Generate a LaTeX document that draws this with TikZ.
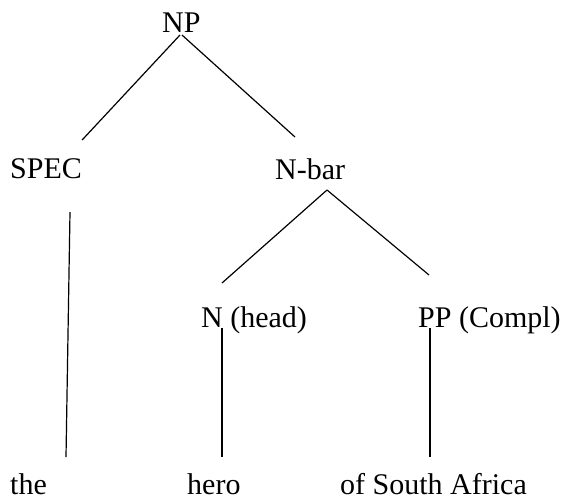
\documentclass[tikz,border=0pt]{standalone}
\usepackage{fontspec}
\setmainfont{Liberation Serif}
\usetikzlibrary{calc}
\tikzset{
	word/.style={inner sep=0pt, anchor=base west, font=\fontsize{30}{36}\selectfont},
	branch/.style={line width=1.2pt}
}

\begin{document}
\begin{tikzpicture}[x=1pt, y=1pt]
	% page: 570 x 499, y counted downwards
	\useasboundingbox (0,0) rectangle (570,-499);
	% phrase labels
	\node[word] (np) at (162,-32) {NP};
	\node[word] (spec) at (10,-178) {SPEC};
	\node[word] (nbar) at (275,-179) {N-bar};
	\node[word] (nhead) at (201,-327) {N (head)};
	\node[word] (ppc) at (418,-327) {PP (Compl)};
	% words
	\node[word] (the) at (10,-494) {the};
	\node[word] (hero) at (187,-494) {hero};
	\node[word] (africa) at (340,-494) {of South Africa};
	% branches
	\draw[branch] ($(np.base west)+(18,-3)$) -- ($(spec.base east)+(0,38)$);
	\draw[branch] ($(np.base west)+(20,-3)$) -- ($(nbar.base west)+(20,42)$);
	\draw[branch] ($(nbar.base west)+(52,-11)$) -- ($(nhead.base west)+(21,44)$);
	\draw[branch] ($(nbar.base west)+(52,-11)$) -- ($(ppc.base west)+(11,52)$);
	% down to the words
	\draw[branch] ($(spec.base west)+(60,-34)$) -- ($(the.base west)+(56,37)$);
	\draw[branch] ($(nhead.base west)+(21,-1)$) -- ($(hero.base west)+(35,37)$);
	\draw[branch] ($(ppc.base west)+(12,-1)$) -- ($(africa.base west)+(90,37)$);
\end{tikzpicture}
\end{document}
